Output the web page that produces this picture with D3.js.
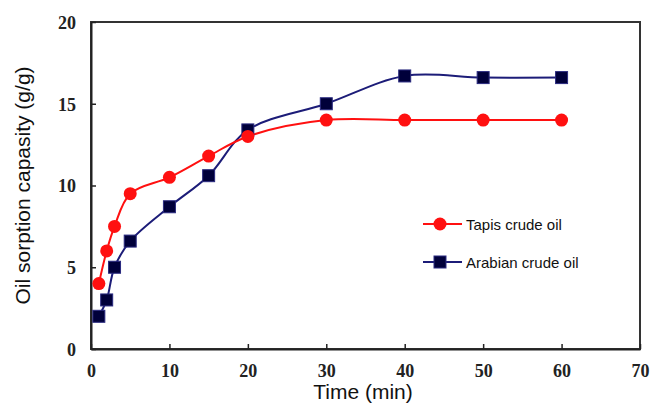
<!DOCTYPE html>
<html><head><meta charset="utf-8">
<script src="https://cdn.jsdelivr.net/npm/d3@7/dist/d3.min.js"></script>
<style>body{margin:0;background:#fff}svg{display:block}</style>
</head><body>
<svg id="c" width="650" height="404"></svg>
<script>
const times = [1, 2, 3, 5, 10, 15, 20, 30, 40, 50, 60];
const tapis = [4.0, 6.0, 7.5, 9.5, 10.5, 11.8, 13.0, 14.0, 14.0, 14.0, 14.0];
const arabian = [2.0, 3.0, 5.0, 6.6, 8.7, 10.6, 13.4, 15.0, 16.7, 16.6, 16.6];
const xTicks = [0, 10, 20, 30, 40, 50, 60, 70];
const yTicks = [0, 5, 10, 15, 20];
const seriesNames = ["Tapis crude oil", "Arabian crude oil"];

const svg = d3.select("#c");
const m = {l: 91, r: 10, t: 22, b: 55};
const W = 650, H = 404;
const x = d3.scaleLinear().domain([0, 70]).range([m.l, W - m.r]);
const y = d3.scaleLinear().domain([0, 20]).range([H - m.b, m.t]);

// frame
svg.append("rect").attr("x", x(0)).attr("y", y(20)).attr("width", x(70) - x(0)).attr("height", y(0) - y(20))
  .attr("fill", "none").attr("stroke", "#333").attr("stroke-width", 2);

const xa = svg.append("g").attr("transform", `translate(0,${y(0)})`)
  .call(d3.axisBottom(x).tickValues(xTicks).tickSizeInner(-5).tickSizeOuter(0).tickPadding(15));
const ya = svg.append("g").attr("transform", `translate(${x(0)},0)`)
  .call(d3.axisLeft(y).tickValues(yTicks).tickSizeInner(-5).tickSizeOuter(0).tickPadding(15));
[xa, ya].forEach(g => {
  g.select(".domain").attr("stroke", "#222").attr("stroke-width", 2);
  g.selectAll(".tick line").attr("stroke", "#222").attr("stroke-width", 1.5);
  g.selectAll(".tick text").attr("font-family", "Liberation Serif, serif").attr("font-size", 18)
    .attr("font-weight", "bold").attr("fill", "#222");
});
ya.selectAll(".tick text").attr("dy", "0.35em");

// titles
svg.append("text").attr("x", 363).attr("y", 399).attr("text-anchor", "middle")
  .attr("font-family", "Liberation Sans, Arial, sans-serif").attr("font-size", 21).attr("fill", "#111")
  .text("Time (min)");
svg.append("text").attr("transform", `translate(30,${(y(0) + y(20)) / 2}) rotate(-90)`).attr("text-anchor", "middle")
  .attr("font-family", "Liberation Sans, Arial, sans-serif").attr("font-size", 21).attr("fill", "#111")
  .text("Oil sorption capasity (g/g)");

const red = "#ff1010", navyLine = "#1c1c78", navyFill = "#00003a";
const line = d3.line().x(d => x(d[0])).y(d => y(d[1])).curve(d3.curveCatmullRom.alpha(0.5));
const tData = times.map((t, i) => [t, tapis[i]]);
const aData = times.map((t, i) => [t, arabian[i]]);

svg.append("path").attr("d", line(aData)).attr("fill", "none").attr("stroke", navyLine).attr("stroke-width", 2);
svg.append("path").attr("d", line(tData)).attr("fill", "none").attr("stroke", red).attr("stroke-width", 2);

const sq = 12;
svg.selectAll(".sq").data(aData).join("rect")
  .attr("x", d => x(d[0]) - sq / 2).attr("y", d => y(d[1]) - sq / 2).attr("width", sq).attr("height", sq)
  .attr("fill", navyFill).attr("stroke", "#2a2a80").attr("stroke-width", 1);
svg.selectAll(".ci").data(tData).join("circle")
  .attr("cx", d => x(d[0])).attr("cy", d => y(d[1])).attr("r", 6.5).attr("fill", red);

// legend
const lg = svg.append("g");
const rows = [{name: seriesNames[0], y: 224, c: red}, {name: seriesNames[1], y: 262, c: navyLine}];
rows.forEach((r, i) => {
  lg.append("line").attr("x1", 423).attr("x2", 462).attr("y1", r.y).attr("y2", r.y).attr("stroke", r.c).attr("stroke-width", 2);
  if (i === 0) lg.append("circle").attr("cx", 440).attr("cy", r.y).attr("r", 6.5).attr("fill", red);
  else lg.append("rect").attr("x", 440 - sq / 2).attr("y", r.y - sq / 2).attr("width", sq).attr("height", sq)
    .attr("fill", navyFill).attr("stroke", "#2a2a80");
  lg.append("text").attr("x", 466).attr("y", r.y + 5.5).attr("font-family", "Liberation Sans, Arial, sans-serif")
    .attr("font-size", 15).attr("fill", "#111").text(r.name);
});
</script>
</body></html>
